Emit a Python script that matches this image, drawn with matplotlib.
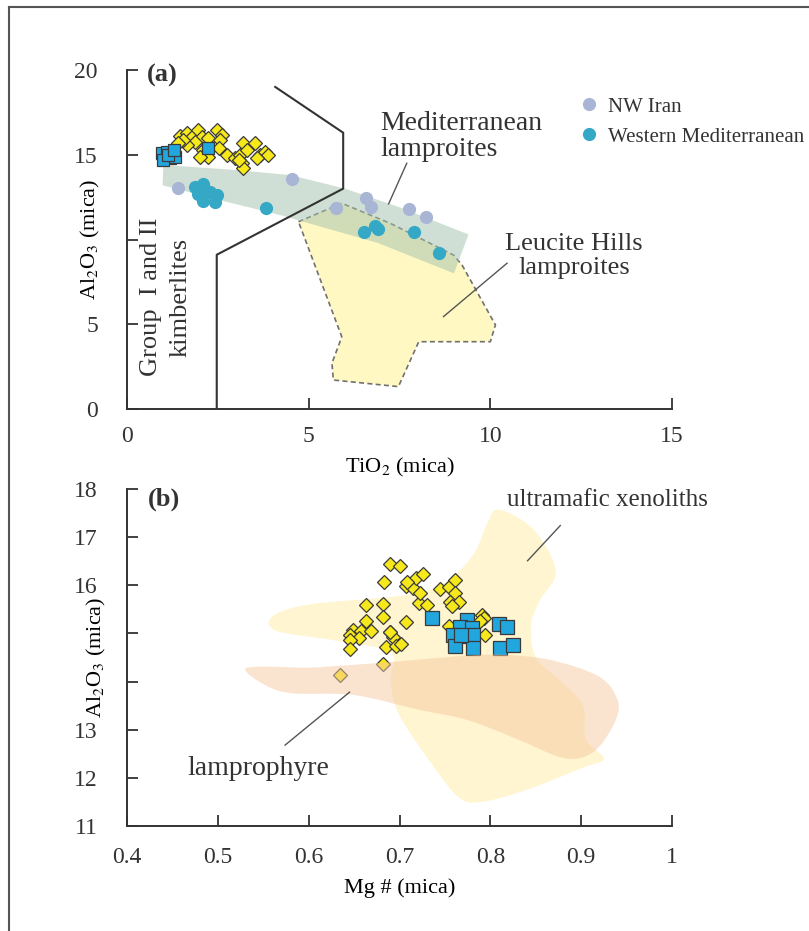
import numpy as np
import matplotlib.pyplot as plt
from matplotlib.patches import Polygon, PathPatch
from matplotlib.path import Path
from matplotlib.lines import Line2D

plt.rcParams['font.family'] = 'Liberation Serif'
plt.rcParams['mathtext.fontset'] = 'stix'
plt.rcParams['text.color'] = '#333333'
plt.rcParams['axes.edgecolor'] = '#333333'

# ---- panel (a): TiO2 vs Al2O3 ----
a_dia_ti = [1.46, 1.64, 1.78, 1.96, 2.06, 1.87, 1.64, 1.55, 2.24, 2.47, 2.61, 2.56, 2.10,
            2.24, 2.52, 2.75, 2.98, 3.11, 3.20, 3.30, 3.53, 3.66, 3.80, 3.89, 3.57, 3.16,
            3.20, 3.07, 2.01, 1.41]
a_dia_al = [16.1, 16.26, 16.07, 16.46, 16.07, 15.77, 15.58, 15.87, 15.97, 16.46, 16.17, 15.87, 15.28,
            14.89, 15.38, 14.99, 14.79, 14.99, 15.67, 15.28, 15.67, 14.99, 15.18, 14.99, 14.79, 14.5,
            14.2, 14.69, 14.89, 15.67]
a_sq_ti = [0.95, 1.09, 1.18, 1.32, 1.00, 1.14, 1.28, 2.24]
a_sq_al = [15.08, 15.18, 14.79, 14.89, 14.69, 14.99, 15.28, 15.38]

nw_ti = [1.41, 4.54, 5.76, 6.58, 6.71, 7.77, 8.23]
nw_al = [13.06, 13.57, 11.88, 12.43, 11.92, 11.8, 11.3]
wm_ti = [1.87, 2.10, 2.29, 2.47, 2.10, 1.96, 2.42, 3.82, 6.51, 6.83, 6.92, 7.89, 8.59]
wm_al = [13.1, 13.3, 12.8, 12.6, 12.3, 12.7, 12.2, 11.84, 10.42, 10.8, 10.6, 10.42, 9.18]

# kimberlite field boundary
kimb_ti = [4.08, 5.95, 5.95, 2.47, 2.47]
kimb_al = [19.0, 16.3, 13.0, 9.1, 0.0]

# Mediterranean lamproite band
med_band = [(1.0, 14.4), (3.0, 14.1), (4.5, 13.8), (6.0, 13.0), (7.5, 11.9), (9.4, 10.3),
            (9.0, 8.0), (6.9, 9.8), (4.2, 11.45), (2.5, 12.35), (0.98, 13.2)]
# Leucite Hills lamproite field
leucite = [(4.72, 11.05), (5.91, 12.14), (7.25, 10.95), (8.99, 9.08), (9.22, 8.5),
           (10.14, 4.96), (10.0, 3.97), (8.03, 3.97), (7.47, 1.32), (5.68, 1.71),
           (5.64, 2.7), (5.85, 3.9), (5.91, 4.27)]

# ---- panel (b): Mg# vs Al2O3 ----
b_dia_mg = [0.690, 0.701, 0.683, 0.707, 0.715, 0.718, 0.722, 0.663, 0.682, 0.682, 0.707, 0.663,
            0.649, 0.646, 0.658, 0.669, 0.655, 0.646, 0.646, 0.690, 0.693, 0.685, 0.696, 0.682,
            0.634, 0.726, 0.708, 0.723, 0.745, 0.754, 0.761, 0.761, 0.756, 0.765, 0.758, 0.730,
            0.754, 0.794, 0.791, 0.793, 0.689, 0.789, 0.702]
b_dia_al = [16.45, 16.41, 16.06, 15.99, 15.94, 16.15, 15.63, 15.59, 15.61, 15.35, 15.23, 15.25,
            15.07, 14.97, 15.06, 15.06, 14.9, 14.87, 14.67, 15.02, 14.92, 14.71, 14.74, 14.37,
            14.14, 16.24, 16.06, 15.85, 15.92, 15.97, 16.11, 15.84, 15.66, 15.66, 15.56, 15.59,
            15.16, 14.97, 15.39, 15.32, 15.04, 15.25, 14.79]
b_sq_mg = [0.736, 0.774, 0.767, 0.780, 0.759, 0.770, 0.781, 0.761, 0.781, 0.809, 0.818, 0.811,
           0.825, 0.768]
b_sq_al = [15.33, 15.28, 15.14, 15.11, 14.97, 14.94, 14.97, 14.73, 14.69, 15.2, 15.14, 14.69,
           14.76, 14.97]

ultramafic = [(0.81, 17.57), (0.848, 17.15), (0.872, 16.3), (0.855, 15.7), (0.845, 15.2),
              (0.85, 14.5), (0.878, 14.0), (0.902, 13.5), (0.905, 12.8), (0.925, 12.4),
              (0.90, 12.2), (0.84, 11.75), (0.79, 11.5), (0.765, 11.6), (0.735, 12.3),
              (0.70, 13.3), (0.69, 14.0), (0.69, 14.6), (0.63, 14.85), (0.565, 15.05),
              (0.56, 15.35), (0.60, 15.6), (0.70, 15.78), (0.745, 16.0), (0.78, 16.6),
              (0.797, 17.3)]
lamprophyre = [(0.53, 14.25), (0.55, 14.31), (0.60, 14.29), (0.65, 14.35), (0.70, 14.42),
               (0.76, 14.52), (0.81, 14.56), (0.866, 14.45), (0.92, 14.1), (0.94, 13.62),
               (0.938, 13.2), (0.92, 12.65), (0.90, 12.42), (0.875, 12.44), (0.83, 12.8),
               (0.775, 13.2), (0.72, 13.42), (0.65, 13.72), (0.58, 13.76), (0.55, 13.95)]

# tick labels (the y-label sits over the middle ones)
a_yticks = [0, 5, 10, 15, 20]
a_ylabels = ['0', '5', '', '15', '20']
b_xticks = [0.4, 0.5, 0.6, 0.7, 0.8, 0.9, 1.0]
b_xlabels = ['0.4', '0.5', '0.6', '0.7', '0.8', '0.9', '1']
b_yticks = [11, 12, 13, 14, 15, 16, 17, 18]
b_ylabels = ['11', '12', '13', '', '', '16', '17', '18']


def smooth_path(pts):
    # closed Catmull-Rom outline as cubic Bezier segments
    pts = np.asarray(pts, dtype=float)
    n = len(pts)
    verts = [pts[0]]
    codes = [Path.MOVETO]
    for i in range(n):
        p0, p1, p2, p3 = pts[i - 1], pts[i], pts[(i + 1) % n], pts[(i + 2) % n]
        verts += [p1 + (p2 - p0) / 6, p2 - (p3 - p1) / 6, p2]
        codes += [Path.CURVE4] * 3
    return Path(verts, codes)


YEL = '#f7e81c'
BLUE = '#22a6de'
EDGE = '#3a3a3a'
NWC = '#a9b5d5'
WMC = '#35a8c6'

fig = plt.figure(figsize=(8.09, 9.31), dpi=100)

# outer frame (left and top edges)
fig.add_artist(Line2D([8.5 / 809, 8.5 / 809], [1 - 7 / 931, 0], color='#555555', lw=1.5))
fig.add_artist(Line2D([8.5 / 809, 1], [1 - 7 / 931, 1 - 7 / 931], color='#555555', lw=1.5))

ax1 = fig.add_axes([127 / 809, 1 - 409 / 931, 545 / 809, 339 / 931])
ax2 = fig.add_axes([127 / 809, 1 - 826 / 931, 545 / 809, 337 / 931])

for ax in (ax1, ax2):
    ax.spines['top'].set_visible(False)
    ax.spines['right'].set_visible(False)
    ax.spines['left'].set_linewidth(1.4)
    ax.spines['bottom'].set_linewidth(1.4)
    ax.tick_params(direction='in', length=8, width=1.3, labelsize=17, colors='#333333')
    ax.tick_params(axis='y', pad=21)
    ax.tick_params(axis='x', pad=12)

# panel (a)
ax1.add_patch(Polygon(leucite, closed=True, facecolor='#fff8c2', edgecolor='#707070',
                      lw=1.2, ls=(0, (3, 2)), zorder=1))
ax1.add_patch(Polygon(med_band, closed=True, facecolor='#a1c1ad', edgecolor='none',
                      alpha=0.5, zorder=2))
ax1.plot(kimb_ti, kimb_al, color='#333333', lw=1.5, zorder=3)
ax1.plot(a_dia_ti, a_dia_al, 'D', ms=7.6, mfc=YEL, mec=EDGE, mew=0.9, ls='none', zorder=5)
ax1.plot(a_sq_ti, a_sq_al, 's', ms=9, mfc=BLUE, mec=EDGE, mew=0.9, ls='none', zorder=6)
h1, = ax1.plot(nw_ti, nw_al, 'o', ms=9.5, mfc=NWC, mec='none', ls='none', zorder=4,
               label='NW Iran')
h2, = ax1.plot(wm_ti, wm_al, 'o', ms=9.5, mfc=WMC, mec='none', ls='none', zorder=4,
               label='Western Mediterranean')

ax1.set_xlim(0, 15)
ax1.set_ylim(0, 20)
ax1.set_xticks([0, 5, 10, 15])
ax1.set_yticks(a_yticks)
ax1.set_yticklabels(a_ylabels)
ax1.set_xlabel(r'TiO$_2$ (mica)', fontsize=16)
ax1.set_ylabel(r'Al$_2$O$_3$ (mica)', fontsize=16)
ax1.yaxis.set_label_coords(-0.045, 0.5)
ax1.xaxis.set_label_coords(0.5, -0.14)

ax1.text(0.55, 19.7, '(a)', fontsize=19, fontweight='bold', va='center', ha='left')
ax1.text(1.07, 6.6, 'Group  I and II\nkimberlites', rotation=90, fontsize=19,
         ha='center', va='center', multialignment='center', linespacing=1.45)
ax1.text(6.97, 16.1, 'Mediterranean\nlamproites', fontsize=20, ha='left', va='center',
         linespacing=1.05)
ax1.text(12.3, 9.03, 'Leucite Hills\nlamproites', fontsize=19, ha='center', va='center',
         linespacing=1.1)
ax1.plot([7.7, 7.2], [14.5, 12.1], color='#555555', lw=1)
ax1.plot([10.46, 8.71], [8.6, 5.45], color='#555555', lw=1)

leg = ax1.legend(handles=[h1, h2], loc='upper left', bbox_to_anchor=(581 / 809, 1 - 97 / 931),
                 bbox_transform=fig.transFigure, frameon=False, fontsize=15,
                 handlelength=0.8, handletextpad=0.5, labelspacing=0.5, borderpad=0,
                 borderaxespad=0)

# panel (b)
ax2.add_patch(PathPatch(smooth_path(ultramafic), facecolor='#fff4c8', edgecolor='none',
                        alpha=0.85, zorder=1))
ax2.plot(b_dia_mg, b_dia_al, 'D', ms=7.2, mfc=YEL, mec=EDGE, mew=0.9, ls='none', zorder=3)
ax2.plot(b_sq_mg, b_sq_al, 's', ms=9.5, mfc=BLUE, mec=EDGE, mew=0.9, ls='none', zorder=4)
ax2.add_patch(PathPatch(smooth_path(lamprophyre), facecolor='#f7c8a0', edgecolor='none',
                        alpha=0.5, zorder=5))

ax2.set_xlim(0.4, 1.0)
ax2.set_ylim(11, 18)
ax2.set_xticks(b_xticks)
ax2.set_xticklabels(b_xlabels)
ax2.set_yticks(b_yticks)
ax2.set_yticklabels(b_ylabels)
ax2.tick_params(axis='x', pad=15)
ax2.set_xlabel('Mg # (mica)', fontsize=16)
ax2.set_ylabel(r'Al$_2$O$_3$ (mica)', fontsize=16)
ax2.yaxis.set_label_coords(-0.035, 0.5)
ax2.xaxis.set_label_coords(0.5, -0.155)

ax2.text(0.423, 17.78, '(b)', fontsize=19, fontweight='bold', va='center', ha='left')
ax2.text(0.8185, 17.78, 'ultramafic xenoliths', fontsize=18, ha='left', va='center')
ax2.text(0.466, 12.2, 'lamprophyre', fontsize=20, ha='left', va='center')
ax2.plot([0.877, 0.841], [17.24, 16.51], color='#555555', lw=1, zorder=6)
ax2.plot([0.645, 0.574], [13.78, 12.68], color='#555555', lw=1, zorder=6)

fig.savefig('out.png', dpi=100)
